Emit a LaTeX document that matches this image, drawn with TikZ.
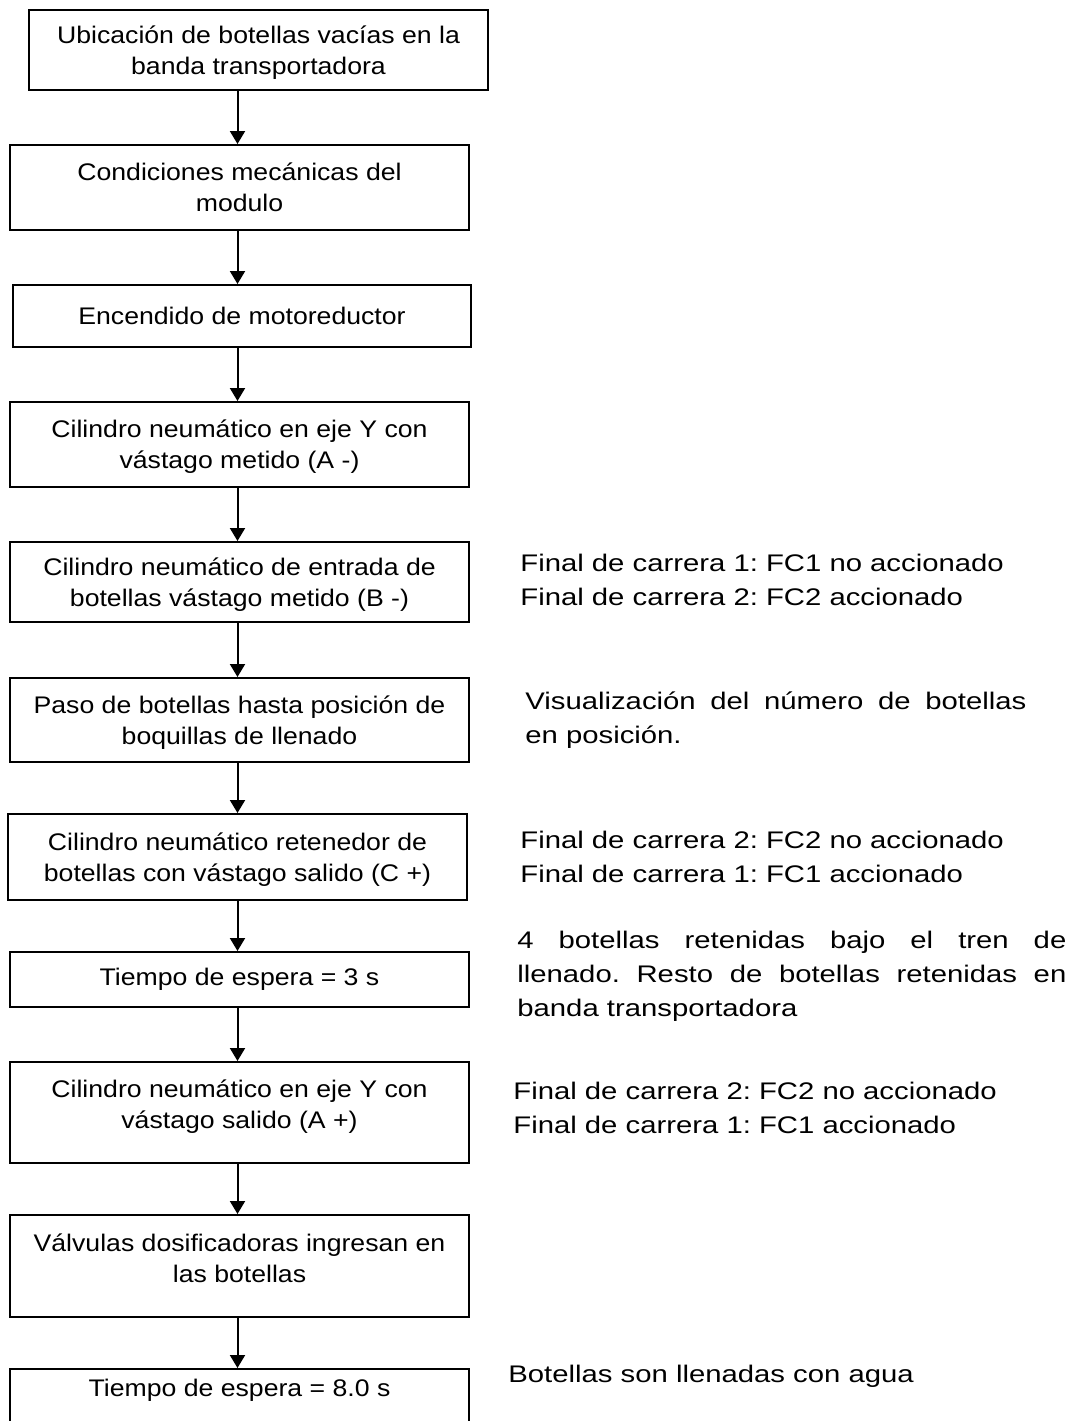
\documentclass[tikz,border=0pt]{standalone}
\usepackage{fontspec}
\setmainfont[FakeStretch=1.11]{Liberation Sans}
\newfontfamily\notafont[FakeStretch=1.22]{Liberation Sans}
\frenchspacing
\usetikzlibrary{arrows.meta}

\begin{document}
\begin{tikzpicture}[x=0.5pt,y=-0.5pt,
  caja/.style={draw, line width=1pt, minimum width=229.5pt, align=center, inner sep=0pt,
    font=\fontsize{12}{15.5}\selectfont},
  nota/.style={anchor=west, inner sep=0pt, align=left, font=\notafont\fontsize{12}{17}\selectfont},
  flecha/.style={line width=1pt, -{Triangle[width=7.5pt,length=6.5pt]}}]
  \useasboundingbox (0,0) rectangle (1072,1421);

  % Pasos del proceso
  \node[caja, minimum height=40pt, text depth=-2pt] (b1) at (258.5,50) {Ubicación de botellas vacías en la\\banda transportadora};
  \node[caja, minimum height=42.5pt] (b2) at (239.5,187.5) {Condiciones mecánicas del\\modulo};
  \node[caja, minimum width=229pt, minimum height=31pt] (b3) at (242,316) {Encendido de motoreductor};
  \node[caja, minimum height=42.5pt, text depth=0pt] (b4) at (239.5,444.5) {Cilindro neumático en eje Y con\\vástago metido (A -)};
  \node[caja, minimum height=40pt, text depth=-3pt] (b5) at (239.5,582) {Cilindro neumático de entrada de\\botellas vástago metido (B -)};
  \node[caja, minimum height=42pt, text depth=-2.5pt] (b6) at (239.5,720) {Paso de botellas hasta posición de\\boquillas de llenado};
  \node[caja, minimum height=43pt, text depth=-0.5pt] (b7) at (237.5,857) {Cilindro neumático retenedor de\\botellas con vástago salido (C +)};
  \node[caja, minimum height=27.5pt] (b8) at (239.5,979.5) {Tiempo de espera = 3 s};
  \node[caja, minimum height=50.5pt, text depth=8.5pt] (b9) at (239.5,1112.5) {Cilindro neumático en eje Y con\\vástago salido (A +)};
  \node[caja, minimum height=51pt, text depth=8pt] (b10) at (239.5,1266) {Válvulas dosificadoras ingresan en\\las botellas};
  \node[caja, minimum height=28pt, text depth=9.5pt] (b11) at (239.5,1397) {Tiempo de espera = 8.0 s};

  % Flechas
  \coordinate (eje) at (237.5,0);
  \foreach \i [evaluate=\i as \j using int(\i+1)] in {1,...,10}
    \draw[flecha] (b\i.south -| eje) -- (b\j.north -| eje);

  % Notas laterales
  \node[nota] (n1) at (520,580) {Final de carrera 1: FC1 no accionado\\Final de carrera 2: FC2 accionado};
  \node[nota, text width=250.5pt, align=justify] (n2) at (525,720) {Visualización del número de botellas\linebreak en posición.};
  \node[nota] (n3) at (520,856.5) {Final de carrera 2: FC2 no accionado\\Final de carrera 1: FC1 accionado};
  \node[nota, text width=274.5pt, align=justify] (n4) at (517,976) {4 botellas retenidas bajo el tren de\linebreak llenado. Resto de botellas retenidas en\linebreak banda transportadora};
  \node[nota] (n5) at (513,1107.5) {Final de carrera 2: FC2 no accionado\\Final de carrera 1: FC1 accionado};
  \node[nota] (n6) at (508,1376) {Botellas son llenadas con agua};
\end{tikzpicture}
\end{document}
